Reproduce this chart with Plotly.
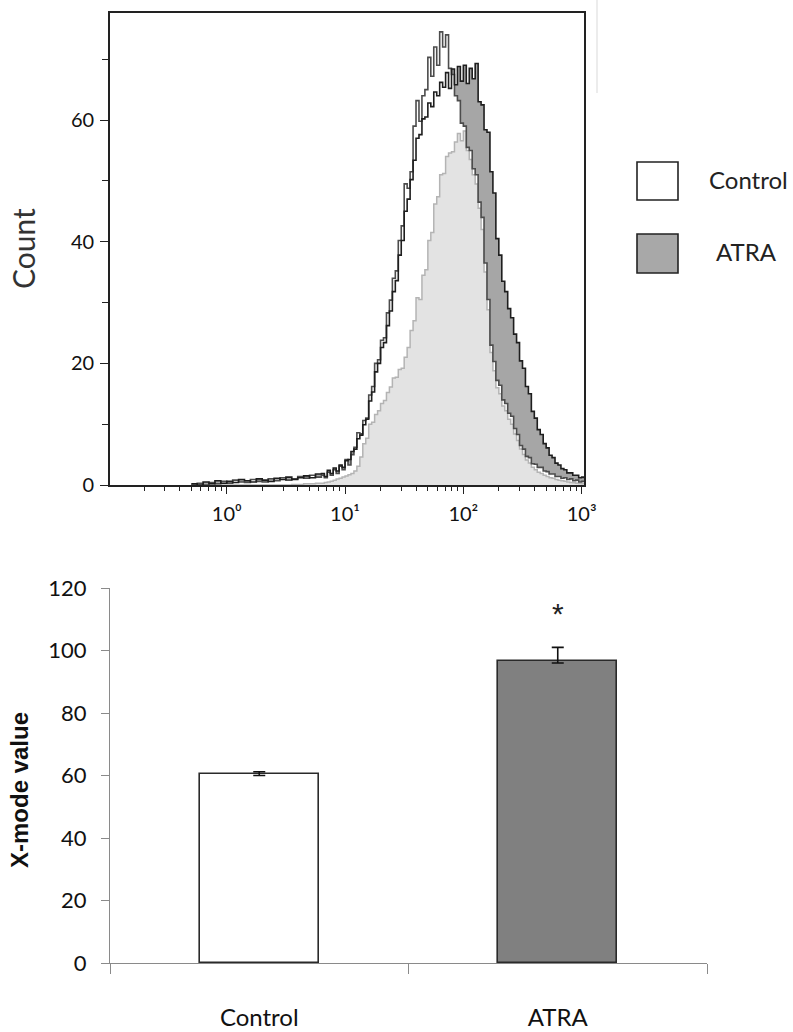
import plotly.graph_objects as go

# ---------------- data ----------------
# histogram bins (log10 of fluorescence)
LOG_BINS = [-0.30, -0.25, -0.20, -0.15, -0.10, -0.05, 0.00, 0.05, 0.10, 0.15, 0.20,
            0.25, 0.30, 0.35, 0.40, 0.45, 0.50, 0.55, 0.60, 0.65, 0.70, 0.75,
            0.800, 0.825, 0.850, 0.875, 0.900, 0.925, 0.950, 0.975,
            1.000, 1.025, 1.050, 1.075, 1.100, 1.125, 1.150, 1.175,
            1.200, 1.225, 1.250, 1.275, 1.300, 1.325, 1.350, 1.375,
            1.400, 1.425, 1.450, 1.475, 1.500, 1.525, 1.550, 1.575,
            1.600, 1.625, 1.650, 1.675, 1.700, 1.725, 1.750, 1.775,
            1.800, 1.825, 1.850, 1.875, 1.900, 1.925, 1.950, 1.975,
            2.000, 2.025, 2.050, 2.075, 2.100, 2.125, 2.150, 2.175,
            2.200, 2.225, 2.250, 2.275, 2.300, 2.325, 2.350, 2.375,
            2.400, 2.425, 2.450, 2.475, 2.500, 2.525, 2.550, 2.575,
            2.600, 2.625, 2.650, 2.675, 2.700, 2.725, 2.750, 2.775,
            2.800, 2.825, 2.850, 2.875, 2.900, 2.925, 2.950, 2.975,
            3.000, 3.025]

CONTROL_COUNTS = [0.0, 0.3, 0.0, 0.4, 0.2, 0.6, 0.3, 0.8, 0.5, 0.4, 0.9,
                  0.6, 0.5, 1.0, 0.7, 1.2, 0.8, 1.0, 1.4, 1.1, 1.6, 1.3,
                  1.6, 1.2, 2.1, 1.6, 2.5, 1.9, 3.1, 2.5,
                  4.2, 3.3, 5.0, 6.2, 8.6, 8.4, 10.6, 11.0,
                  14.8, 16.2, 20.0, 20.6, 23.8, 24.2, 28.3, 30.4,
                  34.0, 35.2, 40.2, 42.6, 49.5, 48.8, 51.5, 59.0,
                  63.2, 59.8, 64.0, 65.0, 70.3, 67.2, 72.0, 69.0,
                  74.5, 72.0, 74.0, 68.5, 67.5, 64.0, 63.2, 59.5,
                  59.0, 55.5, 55.0, 52.0, 51.0, 46.5, 44.0, 36.5,
                  30.5, 23.0, 20.3, 17.2, 16.4, 14.0, 13.4, 11.8,
                  11.3, 9.3, 8.3, 6.5, 5.9, 4.7, 4.5, 3.5,
                  3.4, 2.9, 2.9, 2.3, 2.2, 1.8, 1.8, 1.4,
                  1.4, 1.1, 1.2, 0.9, 1.0, 0.7, 0.8, 0.5,
                  0.6, 0.4]

ATRA_COUNTS = [0.2, 0.0, 0.5, 0.2, 0.7, 0.3, 0.6, 0.4, 0.9, 0.7, 0.5,
               1.0, 0.8, 0.6, 1.1, 0.9, 1.3, 0.9, 1.2, 1.5, 1.2, 1.8,
               1.9, 1.4, 2.4, 1.9, 2.8, 2.3, 3.3, 2.9,
               4.0, 4.2, 5.5, 5.9, 7.6, 8.2, 9.9, 10.8,
               13.8, 15.3, 18.6, 20.0, 22.6, 23.4, 26.2, 28.6,
               31.8, 33.6, 37.8, 40.2, 45.0, 47.0, 50.2, 53.4,
               57.0, 57.6, 60.2, 60.5, 62.8, 62.2, 64.6, 64.0,
               66.2, 65.4, 67.8, 65.2, 68.4, 65.8, 68.8, 66.4,
               69.0, 66.0, 68.5, 66.8, 69.3, 63.0, 62.5, 58.4,
               58.0, 51.5, 48.0, 40.5, 37.8, 33.5, 31.8, 29.0,
               27.5, 24.8, 23.4, 20.4, 19.2, 16.2, 15.0, 12.1,
               11.0, 9.1, 8.3, 6.8, 6.1, 4.9, 4.5, 3.6,
               3.3, 2.7, 2.5, 2.0, 2.0, 1.6, 1.6, 1.2,
               1.3, 1.0]

OVERLAY_COUNTS = [0.0, 0.0, 0.0, 0.0, 0.0, 0.0, 0.0, 0.0, 0.0, 0.0, 0.0,
                  0.0, 0.0, 0.0, 0.0, 0.0, 0.0, 0.1, 0.1, 0.2, 0.2, 0.3,
                  0.3, 0.4, 0.5, 0.6, 0.8, 1.0, 1.1, 1.3,
                  1.5, 1.7, 1.9, 2.3, 3.1, 4.6, 6.8, 7.7,
                  10.0, 10.3, 11.6, 12.2, 13.4, 13.9, 15.2, 16.1,
                  17.6, 17.7, 19.0, 19.2, 21.0, 22.6, 25.4, 27.0,
                  30.8, 30.5, 34.5, 35.4, 40.2, 41.5, 46.2, 47.4,
                  51.0, 51.2, 54.0, 54.6, 54.8, 56.4, 57.8, 56.6,
                  58.2, 55.0, 53.5, 51.0, 49.5, 45.5, 42.0, 35.0,
                  28.8, 21.8, 18.8, 16.0, 15.0, 13.0, 12.2, 10.8,
                  10.0, 8.4, 7.3, 5.9, 5.0, 4.1, 3.6, 2.9,
                  2.5, 2.1, 1.9, 1.6, 1.4, 1.2, 1.1, 0.9,
                  0.8, 0.7, 0.6, 0.5, 0.4, 0.35, 0.3, 0.25,
                  0.2, 0.15]

HIST_XTICK_VALS = [1, 10, 100, 1000]
HIST_XTICK_TEXT = ["10\u2070", "10\u00b9", "10\u00b2", "10\u00b3"]
HIST_YTICK_VALS = [0, 20, 40, 60]
HIST_YMINOR_VALS = [10, 30, 50, 70]

# bar chart
CATEGORIES = ["Control", "ATRA"]
MODE_VALUES = [60.6, 96.8]
ERR_PLUS = [0.6, 4.2]
ERR_MINUS = [0.6, 0.8]
BAR_COLORS = ["#ffffff", "#808080"]

# ---------------- helpers ----------------
W, H = 793, 1032


def px_x(p):
    return p / W


def px_y(p):
    return 1 - p / H


hist_x = [10 ** e for e in LOG_BINS]
minor_x = [m * 10 ** d for d in (-1, 0, 1, 2) for m in range(2, 10)]

fig = go.Figure()

# fills first
fig.add_trace(go.Scatter(x=hist_x, y=ATRA_COUNTS, mode="lines", line_shape="hv",
                         line=dict(width=0, color="rgba(0,0,0,0)"), fill="tozeroy",
                         fillcolor="#a6a6a6", showlegend=False, hoverinfo="skip",
                         xaxis="x", yaxis="y"))
fig.add_trace(go.Scatter(x=hist_x, y=CONTROL_COUNTS, mode="lines", line_shape="hv",
                         line=dict(width=0, color="rgba(0,0,0,0)"), fill="tozeroy",
                         fillcolor="#ffffff", showlegend=False, hoverinfo="skip",
                         xaxis="x", yaxis="y"))
fig.add_trace(go.Scatter(x=hist_x, y=OVERLAY_COUNTS, mode="lines", line_shape="hv",
                         line=dict(width=1.5, color="#b4b4b4"), fill="tozeroy",
                         fillcolor="#e3e3e3", showlegend=False, hoverinfo="skip",
                         xaxis="x", yaxis="y"))
# outlines
fig.add_trace(go.Scatter(x=hist_x, y=CONTROL_COUNTS, mode="lines", line_shape="hv",
                         line=dict(width=1.6, color="#4c4c4c"), showlegend=False,
                         xaxis="x", yaxis="y"))
fig.add_trace(go.Scatter(x=hist_x, y=ATRA_COUNTS, mode="lines", line_shape="hv",
                         line=dict(width=1.6, color="#1e1e1e"), showlegend=False,
                         xaxis="x", yaxis="y"))

# bar chart
fig.add_trace(go.Bar(x=CATEGORIES, y=MODE_VALUES, width=0.40,
                     marker=dict(color=BAR_COLORS, line=dict(color="#2a2a2a", width=1.6)),
                     error_y=dict(type="data", array=ERR_PLUS, arrayminus=ERR_MINUS,
                                  color="#111111", thickness=1.6, width=6),
                     showlegend=False, xaxis="x2", yaxis="y2"))

hist_font = dict(family="Lato, Open Sans, sans-serif", size=20, color="#111")
bar_font = dict(family="Lato, Open Sans, sans-serif", size=22, color="#111")
cat_font = dict(family="Lato, Open Sans, sans-serif", size=24, color="#111")

fig.update_layout(
    autosize=True,
    margin=dict(l=0, r=0, t=0, b=0, autoexpand=False),
    paper_bgcolor="white", plot_bgcolor="white",
    xaxis=dict(domain=[px_x(110), px_x(584)], anchor="y", type="log",
               range=[-0.987, 3.02], showgrid=False, zeroline=False,
               showline=True, linecolor="#222", linewidth=1.6, mirror=True,
               ticks="outside", ticklen=7, tickwidth=1.4, tickcolor="#222",
               tickmode="array", tickvals=HIST_XTICK_VALS, ticktext=HIST_XTICK_TEXT,
               tickfont=hist_font, ticklabelstandoff=3,
               minor=dict(tickmode="array", tickvals=minor_x, ticks="outside",
                          ticklen=4, tickwidth=1.2, tickcolor="#222", showgrid=False)),
    yaxis=dict(domain=[px_y(485), px_y(13)], anchor="x", range=[0, 77.6],
               showgrid=False, zeroline=False,
               showline=True, linecolor="#222", linewidth=1.6, mirror=True,
               ticks="outside", ticklen=8, tickwidth=1.4, tickcolor="#222",
               tickmode="array", tickvals=HIST_YTICK_VALS, tickfont=hist_font,
               ticklabelstandoff=2,
               minor=dict(tickmode="array", tickvals=HIST_YMINOR_VALS, ticks="outside",
                          ticklen=6, tickwidth=1.2, tickcolor="#222", showgrid=False)),
    xaxis2=dict(domain=[px_x(110), px_x(707)], anchor="y2", type="category",
                range=[-0.5, 1.5], showgrid=False, zeroline=False,
                showline=True, linecolor="#8a8a8a", linewidth=1.3,
                ticks="outside", tickson="boundaries", ticklen=10, tickwidth=1.3,
                tickcolor="#8a8a8a", tickfont=cat_font, ticklabelstandoff=33),
    yaxis2=dict(domain=[px_y(963), px_y(588)], anchor="x2", range=[0, 120],
                showgrid=False, zeroline=False,
                showline=True, linecolor="#8a8a8a", linewidth=1.3,
                ticks="outside", ticklen=8, tickwidth=1.3, tickcolor="#8a8a8a",
                dtick=20, tickfont=bar_font, ticklabelstandoff=10),
    bargap=0.0,
)

# axis titles
fig.add_annotation(text="Count", x=px_x(23), y=px_y(249), xref="paper", yref="paper",
                   xanchor="center", yanchor="middle",
                   textangle=-90, showarrow=False,
                   font=dict(family="Lato, Open Sans, sans-serif", size=30, color="#333"))
fig.add_annotation(text="<b>X-mode value</b>", x=px_x(19), y=px_y(790), xref="paper", yref="paper",
                   xanchor="center", yanchor="middle",
                   textangle=-90, showarrow=False,
                   font=dict(family="Liberation Sans, Arial, sans-serif", size=24, color="#111"))

# significance marker
fig.add_annotation(text="*", x=CATEGORIES[1], y=112, xref="x2", yref="y2", showarrow=False,
                   xanchor="center", yanchor="middle",
                   font=dict(family="Liberation Sans, Arial, sans-serif", size=30, color="#222"))

# legend boxes
fig.add_shape(type="rect", xref="paper", yref="paper",
              x0=px_x(637), x1=px_x(678), y0=px_y(200), y1=px_y(162),
              line=dict(color="#222", width=1.6), fillcolor="#ffffff")
fig.add_shape(type="rect", xref="paper", yref="paper",
              x0=px_x(637), x1=px_x(678), y0=px_y(273), y1=px_y(234),
              line=dict(color="#222", width=1.6), fillcolor="#a8a8a8")
fig.add_annotation(text="Control", x=px_x(707), y=px_y(180), xref="paper", yref="paper",
                   xanchor="left", yanchor="middle", showarrow=False,
                   font=dict(family="Lato, Open Sans, sans-serif", size=24, color="#222"))
fig.add_annotation(text="ATRA", x=px_x(714), y=px_y(251), xref="paper", yref="paper",
                   xanchor="left", yanchor="middle", showarrow=False,
                   font=dict(family="Lato, Open Sans, sans-serif", size=24, color="#222"))

# faint scan artifact line at top right of the histogram
fig.add_shape(type="line", xref="paper", yref="paper",
              x0=px_x(597), x1=px_x(597), y0=px_y(93), y1=px_y(0),
              line=dict(color="#e6e6e6", width=1.5))

post = (
    "document.documentElement.style.margin='0';"
    "document.documentElement.style.padding='0';"
    "document.documentElement.style.overflow='hidden';"
    "document.body.style.margin='0';"
    "document.body.style.padding='0';"
    "document.body.style.overflow='hidden';"
    "var gd=document.getElementById('{plot_id}');"
    "gd.style.width='100vw';gd.style.height='100vh';"
    "Plotly.Plots.resize(gd);"
)

fig.write_html("out.html", default_width="100vw", default_height="100vh",
               config={"displayModeBar": False, "responsive": True},
               post_script=post)
